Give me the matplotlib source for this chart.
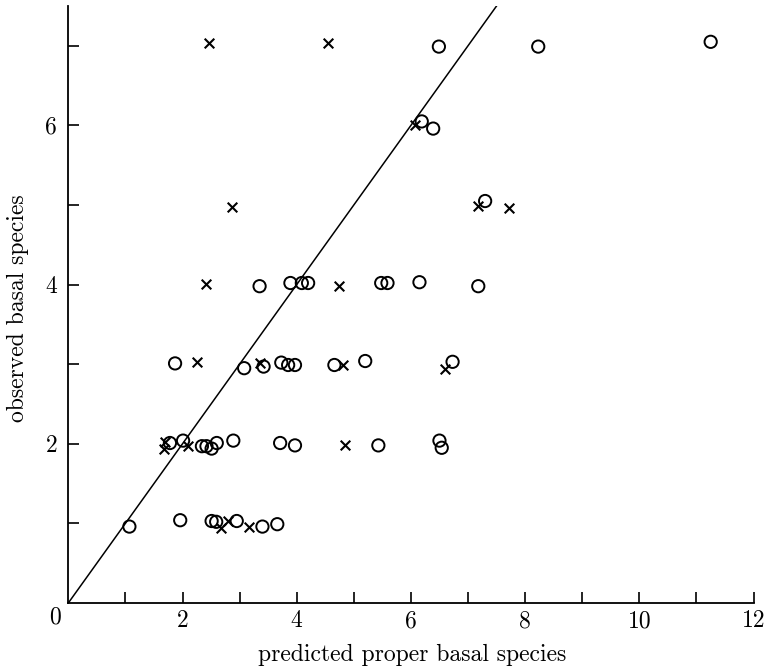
import matplotlib
matplotlib.use("Agg")
import matplotlib.pyplot as plt
from matplotlib.ticker import FixedLocator

plt.rcParams['font.family'] = ['cmr10', 'DejaVu Serif']
plt.rcParams['axes.formatter.use_mathtext'] = True

# open circles
circle_x = [6.49, 8.23, 11.25,
            6.19, 6.39,
            7.30,
            3.35, 3.89, 4.09, 4.20, 5.48, 5.59, 6.15, 7.18,
            1.87, 3.08, 3.42, 3.73, 3.85, 3.97, 4.66, 5.20, 6.73,
            1.78, 2.01, 2.34, 2.42, 2.51, 2.60, 2.89, 3.71, 3.97, 5.43, 6.50, 6.54,
            1.07, 1.96, 2.51, 2.59, 2.95, 3.40, 3.66]
circle_y = [6.99, 6.99, 7.05,
            6.05, 5.96,
            5.05,
            3.98, 4.02, 4.02, 4.02, 4.02, 4.02, 4.03, 3.98,
            3.01, 2.95, 2.97, 3.02, 2.99, 2.99, 2.99, 3.04, 3.03,
            2.01, 2.04, 1.97, 1.97, 1.94, 2.01, 2.04, 2.01, 1.98, 1.98, 2.04, 1.95,
            0.96, 1.04, 1.03, 1.02, 1.03, 0.96, 0.99]

# crosses
cross_x = [2.46, 4.55, 6.07, 2.87, 7.18, 7.72, 2.41, 4.74, 2.25, 3.35,
           4.81, 6.60, 1.69, 1.68, 2.10, 4.85, 2.67, 2.80, 3.17]
cross_y = [7.03, 7.03, 6.00, 4.98, 4.99, 4.96, 4.01, 3.98, 3.03, 3.01,
           2.99, 2.94, 2.02, 1.93, 1.97, 1.98, 0.94, 1.03, 0.96]

# reference line (observed = predicted)
line_x = [0, 7.5]
line_y = [0, 7.5]

x_labeled_ticks = [2, 4, 6, 8, 10, 12]
y_labeled_ticks = [2, 4, 6]

W, H = 769, 668
fig = plt.figure(figsize=(W / 100, H / 100), dpi=100)
ax = fig.add_axes([68.3 / W, (H - 603) / H, (753.5 - 68.3) / W, (603 - 6) / H])

ax.plot(line_x, line_y, color='black', lw=1.1, clip_on=True)
ax.scatter(circle_x, circle_y, s=78, facecolors='none', edgecolors='black',
           linewidths=1.4, marker='o', zorder=3)
ax.scatter(cross_x, cross_y, s=48, color='black', linewidths=1.5,
           marker='x', zorder=3)

ax.set_xlim(0, 12)
ax.set_ylim(0, 7.5)
for s in ['top', 'right']:
    ax.spines[s].set_visible(False)
for s in ['left', 'bottom']:
    ax.spines[s].set_linewidth(1.3)

ax.xaxis.set_major_locator(FixedLocator(x_labeled_ticks))
ax.xaxis.set_minor_locator(FixedLocator([1, 3, 5, 7, 9, 11]))
ax.yaxis.set_major_locator(FixedLocator(y_labeled_ticks))
ax.yaxis.set_minor_locator(FixedLocator([1, 3, 5, 7]))
ax.set_xticklabels([str(v) for v in x_labeled_ticks])
ax.set_yticklabels([str(v) for v in y_labeled_ticks])
ax.tick_params(which='both', direction='in', length=8, width=1.2, labelsize=17)
ax.tick_params(axis='x', which='major', pad=5)
ax.tick_params(axis='y', which='major', pad=8)

ax.annotate('0', xy=(0, 0), xycoords='data', xytext=(-13, -14),
            textcoords='offset pixels', ha='center', va='center', fontsize=17)

fig.text(412.5 / W, 1 - 655 / H, 'predicted proper basal species',
         ha='center', va='center', fontsize=17)
fig.text(18 / W, 1 - 308 / H, 'observed basal species',
         ha='center', va='center', rotation=90, fontsize=17)

fig.savefig('out.png', dpi=100)
